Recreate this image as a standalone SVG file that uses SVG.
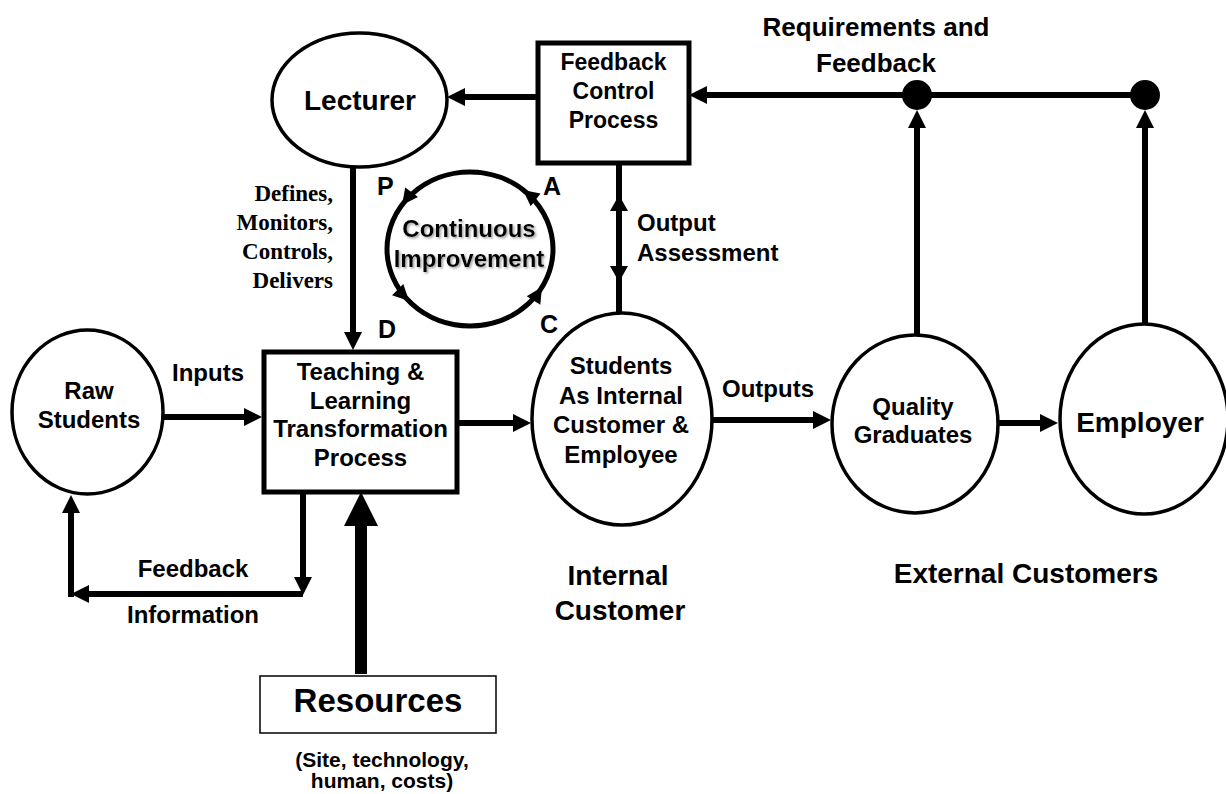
<svg xmlns="http://www.w3.org/2000/svg" width="1226" height="794" viewBox="0 0 1226 794">
<defs>
<style>
text{font-family:"Liberation Sans",Arial,sans-serif;font-weight:bold;fill:#000;}
.c{text-anchor:middle;}
.t24{font-size:24px;}
.serif{font-family:"Liberation Serif","Times New Roman",serif;font-size:23px;text-anchor:end;}
.node{fill:#fff;stroke:#000;stroke-width:3.5;}
.box{fill:#fff;stroke:#000;stroke-width:5;}
.ln{fill:none;stroke:#000;stroke-width:6;}
.arr{fill:none;stroke:#000;stroke-width:6;marker-end:url(#ah);}
</style>
<marker id="ah" markerUnits="userSpaceOnUse" markerWidth="18" markerHeight="18" viewBox="0 0 18 18" refX="8" refY="9" orient="auto">
<path d="M0,0 L18,9 L0,18 z" fill="#000"/>
</marker>
<filter id="sh" x="-10%" y="-20%" width="120%" height="140%">
<feDropShadow dx="1.5" dy="1.5" stdDeviation="1" flood-color="#888" flood-opacity="0.8"/>
</filter>
</defs>
<rect width="1226" height="794" fill="#fff"/>

<g id="connectors">
<path class="arr" d="M538,97 L457,97"/>
<path class="arr" d="M1145,95 L699,95"/>
<circle cx="917" cy="95" r="15" fill="#000"/>
<circle cx="1145" cy="95" r="15" fill="#000"/>
<path class="arr" d="M917,335 L917,120"/>
<path class="arr" d="M1145,324 L1145,120"/>
<path class="arr" d="M353,167 L353,340"/>
<path class="arr" d="M163,417 L252,417"/>
<path class="arr" d="M457,423 L521,423"/>
<path class="arr" d="M713,420 L821,420"/>
<path class="arr" d="M998,423 L1048,423"/>
<path class="ln" d="M619,163 L619,313"/>
<polygon points="619,195 610,211 628,211"/>
<polygon points="619,282 610,266 628,266"/>
<path class="arr" d="M303,492 L303,585"/>
<path class="arr" d="M303,594 L81,594"/>
<path class="arr" d="M71,597 L71,505"/>
<rect x="355" y="525" width="12" height="149"/>
<polygon points="361,492 344,526 378,526"/>
</g>

<g id="cycle">
<ellipse cx="470" cy="249" rx="83" ry="77" fill="none" stroke="#000" stroke-width="5"/>
<polygon points="0,0 -16,-8 -16,8" transform="translate(402,205) rotate(127)"/>
<polygon points="0,0 -16,-8 -16,8" transform="translate(409,301) rotate(45)"/>
<polygon points="0,0 -16,-8 -16,8" transform="translate(542,287) rotate(-58)"/>
<polygon points="0,0 -16,-8 -16,8" transform="translate(523,190) rotate(218)"/>
<g filter="url(#sh)">
<text class="c t24" x="469" y="237">Continuous</text>
<text class="c t24" x="469" y="267">Improvement</text>
</g>
<text x="377" y="195" font-size="25">P</text>
<text x="543" y="195" font-size="25">A</text>
<text x="378" y="338" font-size="25">D</text>
<text x="540" y="333" font-size="25">C</text>
</g>

<g id="lecturer">
<ellipse class="node" cx="359.5" cy="100" rx="87.5" ry="67"/>
<text class="c" x="360" y="110" font-size="28">Lecturer</text>
</g>

<g id="feedback-control">
<rect class="box" x="538" y="43" width="151" height="120"/>
<text class="c" x="613.5" y="70" font-size="23">Feedback</text>
<text class="c" x="613.5" y="99" font-size="23">Control</text>
<text class="c" x="613.5" y="128" font-size="23">Process</text>
</g>

<g id="raw-students">
<ellipse class="node" cx="87.5" cy="412" rx="75.5" ry="82"/>
<text class="c t24" x="89" y="399">Raw</text>
<text class="c t24" x="89" y="428">Students</text>
</g>

<g id="teaching">
<rect class="box" x="264" y="352" width="193" height="140"/>
<text class="c t24" x="360.5" y="380">Teaching &amp;</text>
<text class="c t24" x="360.5" y="408.7">Learning</text>
<text class="c t24" x="360.5" y="437.4">Transformation</text>
<text class="c t24" x="360.5" y="466">Process</text>
</g>

<g id="students-internal">
<ellipse class="node" cx="622" cy="419" rx="90" ry="106"/>
<text class="c t24" x="621" y="374">Students</text>
<text class="c t24" x="621" y="403.5">As Internal</text>
<text class="c t24" x="621" y="433">Customer &amp;</text>
<text class="c t24" x="621" y="462.5">Employee</text>
</g>

<g id="quality-graduates">
<ellipse class="node" cx="915" cy="424" rx="83" ry="89"/>
<text class="c t24" x="913" y="415">Quality</text>
<text class="c t24" x="913" y="443">Graduates</text>
</g>

<g id="employer">
<ellipse class="node" cx="1144" cy="419" rx="84" ry="95"/>
<text class="c" x="1140" y="432" font-size="28">Employer</text>
</g>

<g id="resources">
<rect x="260" y="676" width="236" height="57" fill="#fff" stroke="#000" stroke-width="1.5"/>
<text class="c" x="378" y="712" font-size="33">Resources</text>
</g>

<g id="labels">
<text class="c" x="876" y="36" font-size="26">Requirements and</text>
<text class="c" x="876" y="72" font-size="26">Feedback</text>
<text class="serif" x="333" y="201">Defines,</text>
<text class="serif" x="333" y="230">Monitors,</text>
<text class="serif" x="333" y="259">Controls,</text>
<text class="serif" x="333" y="288">Delivers</text>
<text class="t24" x="637" y="231">Output</text>
<text class="t24" x="637" y="261">Assessment</text>
<text class="t24" x="172" y="381">Inputs</text>
<text class="t24" x="722" y="397">Outputs</text>
<text class="c t24" x="193" y="577">Feedback</text>
<text class="c t24" x="193" y="623">Information</text>
<text class="c" x="618" y="585" font-size="28">Internal</text>
<text class="c" x="620" y="620" font-size="28">Customer</text>
<text class="c" x="1026" y="583" font-size="28">External Customers</text>
<text class="c" x="382" y="767" font-size="21">(Site, technology,</text>
<text class="c" x="382" y="788" font-size="21">human, costs)</text>
</g>
</svg>
